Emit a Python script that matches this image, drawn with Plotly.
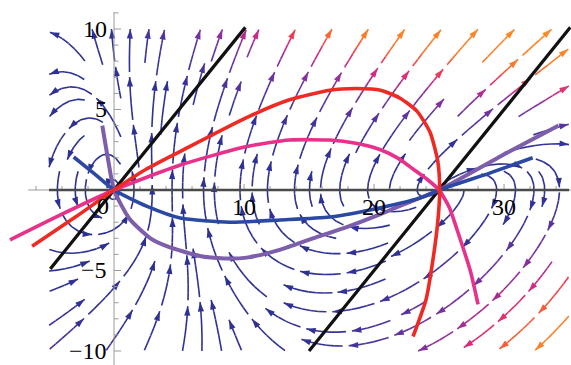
import math
import numpy as np
import plotly.graph_objects as go

# ---------------------------------------------------------------------------
# Vector field drawn as streamlines:
#   dx/dt = y * (x - C0 + P0*y)
#   dy/dt = K0 * x * (25 - x) + B0 * y^2 + F0 * x * y
# ---------------------------------------------------------------------------
C0 = 3.74
P0 = 0.32
K0 = 0.2325
B0 = 0.857
F0 = 0.659

STREAM_X = (-5.0, 35.0)
STREAM_Y = (-10.0, 10.0)

# Overlay curves (data coordinates)
red_x = [-6.3, -3.0, 0.0, 2.5, 5.1, 10.2, 13.5, 16.6, 18.7, 20.5, 22.0, 23.3, 24.3, 24.9, 25.05, 24.9, 24.5, 24.0, 23.0]
red_y = [-3.5, -1.7, 0.0, 1.3, 2.4, 4.5, 5.6, 6.2, 6.3, 6.2, 5.7, 4.9, 3.6, 1.8, 0.0, -2.0, -4.5, -6.8, -9.1]

pink_x = [-8.0, -4.0, 0.0, 5.1, 10.2, 13.5, 16.6, 18.6, 20.5, 21.9, 23.0, 24.1, 25.0, 25.8, 26.4, 27.4, 28.0]
pink_y = [-3.1, -1.5, 0.0, 1.55, 2.7, 3.1, 3.1, 2.9, 2.5, 1.95, 1.3, 0.65, 0.0, -1.1, -2.5, -5.0, -7.1]

blue_x = [-3.1, -1.5, 0.0, 2.5, 5.1, 8.9, 12.8, 16.6, 20.5, 23.8, 25.0, 28.9, 32.2]
blue_y = [2.05, 1.0, 0.0, -1.0, -1.74, -2.0, -1.86, -1.68, -1.1, -0.43, 0.0, 1.05, 2.0]

purple_x = [-0.9, -0.45, 0.0, 1.2, 2.8, 4.1, 6.6, 8.5, 10.2, 12.8, 15.3, 17.9, 20.5, 21.8, 25.0, 30.2, 34.2]
purple_y = [4.0, 1.86, 0.0, -1.8, -3.0, -3.5, -4.1, -4.25, -4.2, -3.7, -3.0, -2.3, -1.5, -1.05, 0.0, 2.3, 4.0]

black1_x = [-4.9, 10.1]
black1_y = [-4.9, 10.1]
black2_x = [15.0, 35.1]
black2_y = [-10.0, 10.1]

xtick_vals = list(range(-6, 35, 2))
ytick_vals = list(range(-10, 12, 1))
xlabel_vals = [10, 20, 30]
ylabel_vals = [-10, -5, 5, 10]

# ---------------------------------------------------------------------------
W, H = 571, 365
AX_X = (-8.77, 35.15)
AX_Y = (-10.87, 11.8)
SX = W / (AX_X[1] - AX_X[0])   # px per x unit
SY = H / (AX_Y[1] - AX_Y[0])   # px per y unit


def velocity(x, y):
    return y * (x - C0 + P0 * y), K0 * x * (25.0 - x) + B0 * y * y + F0 * x * y


def unit_dir(X, Y):
    u, v = velocity(X / SX, Y / SY)
    U, V = u * SX, v * SY
    n = math.hypot(U, V)
    if n < 1e-9:
        return None
    return U / n, V / n


X0, X1 = STREAM_X[0] * SX, STREAM_X[1] * SX
Y0, Y1 = STREAM_Y[0] * SY, STREAM_Y[1] * SY
CELL = 18.0
NX = int(math.ceil((X1 - X0) / CELL))
NY = int(math.ceil((Y1 - Y0) / CELL))
mask = [[0] * NX for _ in range(NY)]
FIXED = [(0.0, 0.0), (25.0 * SX, 0.0)]


def cell_of(X, Y):
    return min(int((Y - Y0) / CELL), NY - 1), min(int((X - X0) / CELL), NX - 1)


def integrate(X, Y, sgn, lid, cells):
    pts = []
    cur = cell_of(X, Y)
    step = 1.0
    total = 0.0
    while total < 4000:
        d1 = unit_dir(X, Y)
        if d1 is None:
            break
        d2 = unit_dir(X + sgn * 0.5 * step * d1[0], Y + sgn * 0.5 * step * d1[1])
        if d2 is None:
            break
        Xn = X + sgn * step * d2[0]
        Yn = Y + sgn * step * d2[1]
        if not (X0 <= Xn < X1 and Y0 <= Yn < Y1):
            break
        if any(math.hypot(Xn - fx, Yn - fy) < 3.0 for fx, fy in FIXED):
            break
        c = cell_of(Xn, Yn)
        if c != cur:
            if mask[c[0]][c[1]]:
                break
            mask[c[0]][c[1]] = lid
            cells.append(c)
            cur = c
        X, Y = Xn, Yn
        pts.append((X, Y))
        total += step
    return pts


def spiral_cells(nx, ny):
    out = []
    left, right, bottom, top = 0, nx - 1, 0, ny - 1
    while left <= right and bottom <= top:
        for i in range(left, right + 1):
            out.append((bottom, i))
        for j in range(bottom + 1, top + 1):
            out.append((j, right))
        if bottom < top:
            for i in range(right - 1, left - 1, -1):
                out.append((top, i))
        if left < right:
            for j in range(top - 1, bottom, -1):
                out.append((j, left))
        left += 1
        right -= 1
        bottom += 1
        top -= 1
    return out


lines = []
lid = 0
for (j, i) in spiral_cells(NX, NY):
    if mask[j][i]:
        continue
    lid += 1
    sx = X0 + (i + 0.5) * CELL
    sy = Y0 + (j + 0.5) * CELL
    mask[j][i] = lid
    cells = [(j, i)]
    back = integrate(sx, sy, -1, lid, cells)
    fwd = integrate(sx, sy, 1, lid, cells)
    line = back[::-1] + [(sx, sy)] + fwd
    if len(line) < 30:
        for c in cells:
            mask[c[0]][c[1]] = 0
        continue
    lines.append(np.array(line))


def split_line(arr, L=44.0, G=5.0):
    seg = np.hypot(np.diff(arr[:, 0]), np.diff(arr[:, 1]))
    s = np.concatenate([[0.0], np.cumsum(seg)])
    total = s[-1]
    n = max(1, int(round((total + G) / (L + G))))
    plen = (total - (n - 1) * G) / n
    pieces = []
    for k in range(n):
        a = k * (plen + G)
        b = a + plen
        idx = np.where((s >= a - 1e-9) & (s <= b + 1e-9))[0]
        if len(idx) >= 2:
            pieces.append(arr[idx])
    return pieces


# speed scale over the stream region
gx, gy = np.meshgrid(np.linspace(*STREAM_X, 81), np.linspace(*STREAM_Y, 41))
gu, gv = velocity(gx, gy)
VMAX = float(np.max(np.hypot(gu, gv)))

CMAP = [
    (0.00, (42, 48, 142)),
    (0.22, (52, 50, 152)),
    (0.35, (98, 52, 160)),
    (0.46, (150, 46, 156)),
    (0.52, (208, 40, 134)),
    (0.58, (236, 56, 90)),
    (0.64, (246, 96, 54)),
    (0.72, (249, 128, 40)),
    (1.00, (250, 140, 40)),
]


def cmap(t):
    t = min(max(t, 0.0), 1.0)
    for (t0, c0), (t1, c1) in zip(CMAP[:-1], CMAP[1:]):
        if t <= t1:
            f = (t - t0) / (t1 - t0)
            return "rgb(%d,%d,%d)" % tuple(round(a + (b - a) * f) for a, b in zip(c0, c1))
    return "rgb(%d,%d,%d)" % CMAP[-1][1]


def speed_frac(X, Y):
    u, v = velocity(X / SX, Y / SY)
    return math.hypot(u, v) / VMAX


NB = 32
SUB = 8  # points per coloured sub-piece
bins_x = [[] for _ in range(NB)]
bins_y = [[] for _ in range(NB)]
arrow_x, arrow_y, arrow_ang, arrow_col = [], [], [], []

for arr in lines:
    for p in split_line(arr):
        n = len(p)
        k = 0
        while k < n - 1:
            q = p[k:min(n, k + SUB + 1)]
            m = q[len(q) // 2]
            b = min(NB - 1, int(speed_frac(m[0], m[1]) * NB))
            bins_x[b].extend(list(q[:, 0] / SX) + [None])
            bins_y[b].extend(list(q[:, 1] / SY) + [None])
            k += SUB
        dX = p[-1, 0] - p[-3 if n > 2 else -2, 0]
        dY = p[-1, 1] - p[-3 if n > 2 else -2, 1]
        tip = p[-4] if n > 4 else p[-1]
        arrow_x.append(p[-1, 0] / SX)
        arrow_y.append(p[-1, 1] / SY)
        arrow_ang.append(math.degrees(math.atan2(dX, dY)))
        arrow_col.append(cmap(speed_frac(tip[0], tip[1])))

fig = go.Figure()

for b in range(NB):
    if not bins_x[b]:
        continue
    fig.add_trace(go.Scatter(
        x=bins_x[b], y=bins_y[b], mode="lines",
        line=dict(color=cmap((b + 0.5) / NB), width=1.6),
        hoverinfo="skip", showlegend=False))

fig.add_trace(go.Scatter(
    x=arrow_x, y=arrow_y, mode="markers",
    marker=dict(symbol="arrow", size=10, angle=arrow_ang, color=arrow_col, line=dict(width=0)),
    hoverinfo="skip", showlegend=False))

# axes
AXC = "#9a9a9a"
fig.add_trace(go.Scatter(x=[-6.6, AX_X[1]], y=[0, 0], mode="lines",
                         line=dict(color=AXC, width=1), hoverinfo="skip", showlegend=False))
fig.add_trace(go.Scatter(x=[0, 0], y=[AX_Y[0], 11.05], mode="lines",
                         line=dict(color=AXC, width=1), hoverinfo="skip", showlegend=False))
tx, ty = [], []
for v in xtick_vals:
    ln = 6.0 if v % 10 == 0 else 4.0
    tx += [v, v, None]
    ty += [0, ln / SY, None]
for v in ytick_vals:
    ln = 7.0 if v % 5 == 0 else 4.5
    tx += [0, ln / SX, None]
    ty += [v, v, None]
fig.add_trace(go.Scatter(x=tx, y=ty, mode="lines", line=dict(color=AXC, width=1),
                         hoverinfo="skip", showlegend=False))

# dark reference line along y = 0
fig.add_trace(go.Scatter(x=[-5, 35], y=[0, 0], mode="lines",
                         line=dict(color="#4a4a4a", width=2.6), hoverinfo="skip", showlegend=False))

fig.add_trace(go.Scatter(x=black1_x, y=black1_y, mode="lines",
                         line=dict(color="#111111", width=3.2), hoverinfo="skip", showlegend=False))
fig.add_trace(go.Scatter(x=black2_x, y=black2_y, mode="lines",
                         line=dict(color="#111111", width=3.2), hoverinfo="skip", showlegend=False))

for cx, cy, col, wd in [(purple_x, purple_y, "#7d5eab", 4.0),
                        (blue_x, blue_y, "#2b48a3", 3.6),
                        (pink_x, pink_y, "#e8318a", 3.6),
                        (red_x, red_y, "#ee2a24", 3.6)]:
    fig.add_trace(go.Scatter(x=cx, y=cy, mode="lines",
                             line=dict(color=col, width=wd, shape="spline", smoothing=0.6),
                             hoverinfo="skip", showlegend=False))

FONT = dict(family="Liberation Serif", size=24, color="black")
ann = []
for v in xlabel_vals:
    ann.append(dict(x=v, y=-1.05, text=str(v), showarrow=False, font=FONT,
                    xanchor="center", yanchor="middle"))
ann.append(dict(x=-0.85, y=-1.0, text="0", showarrow=False, font=FONT,
                xanchor="center", yanchor="middle"))
for v in ylabel_vals:
    txt = ("\u2212" + str(-v)) if v < 0 else str(v)
    ann.append(dict(x=-0.4, y=v, text=txt, showarrow=False, font=FONT,
                    xanchor="right", yanchor="middle"))

fig.update_layout(
    width=W, height=H,
    margin=dict(l=0, r=0, t=0, b=0),
    paper_bgcolor="white", plot_bgcolor="white",
    showlegend=False,
    xaxis=dict(range=list(AX_X), visible=False, fixedrange=True),
    yaxis=dict(range=list(AX_Y), visible=False, fixedrange=True),
    annotations=ann,
)

fig.write_html("out.html")
